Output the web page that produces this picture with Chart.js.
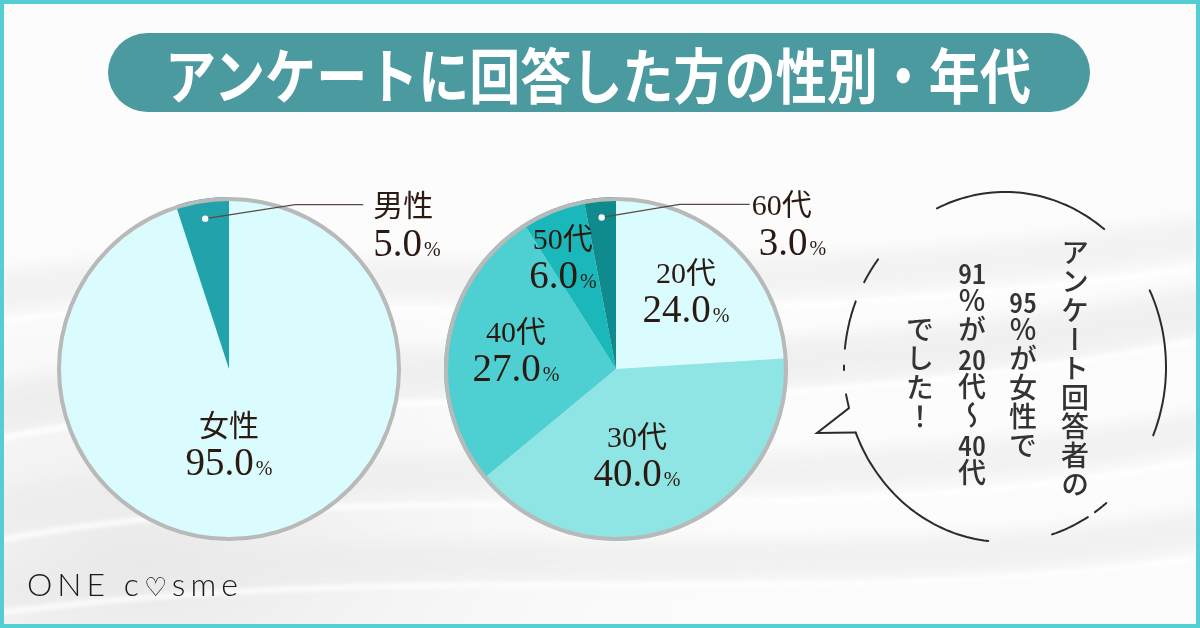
<!DOCTYPE html>
<html><head><meta charset="utf-8">
<script src="https://cdn.jsdelivr.net/npm/chart.js@4"></script>
<style>
html,body{margin:0;padding:0;}
body{width:1200px;height:628px;overflow:hidden;position:relative;background:#f9f9f9;font-family:"Noto Sans CJK JP",sans-serif;}
#bg{position:absolute;left:0;top:0;}
canvas{position:absolute;left:0;top:0;}
#frame{position:absolute;left:0;top:0;width:1192px;height:620px;border:4px solid #52cfd0;pointer-events:none;}
#title{position:absolute;left:108px;top:33px;width:982px;height:79px;border-radius:40px;background:#4b9a9f;overflow:hidden;}
#titleText{position:absolute;left:0;top:0;white-space:nowrap;color:#fff;font-family:"Noto Sans CJK JP",sans-serif;font-weight:700;
  font-size:60px;line-height:79px;transform-origin:0 50%;}
#bubble{position:absolute;left:0;top:0;}
.col{position:absolute;writing-mode:vertical-rl;text-orientation:mixed;font-family:"Noto Sans CJK JP",sans-serif;font-weight:500;
  font-size:28px;line-height:28px;letter-spacing:1px;color:#333;white-space:nowrap;}
.tcy{text-combine-upright:all;}
#logo{position:absolute;left:27px;top:564px;font-family:Lato,"Open Sans",sans-serif;font-weight:300;font-size:32px;letter-spacing:5px;color:#1a1a1a;white-space:nowrap;}
#logo .h{font-family:"DejaVu Sans",sans-serif;font-size:26px;}
</style></head>
<body>
<svg id="bg" width="1200" height="628">
  <defs>
    <filter id="blur"><feGaussianBlur stdDeviation="8"/></filter>
    <filter id="blur2"><feGaussianBlur stdDeviation="2"/></filter>
    <radialGradient id="g1" cx="0.12" cy="0.9" r="0.55">
      <stop offset="0" stop-color="#e8e8e8"/><stop offset="1" stop-color="#fbfbfb" stop-opacity="0"/>
    </radialGradient>
  </defs>
  <rect width="1200" height="628" fill="#fcfcfc"/>
  <rect width="1200" height="628" fill="url(#g1)"/>
  <g filter="url(#blur)" fill="none" opacity="0.6">
    <path d="M-50 300 C 250 240 600 330 1250 230" stroke="#ececec" stroke-width="40"/>
    <path d="M-50 420 C 300 330 700 420 1250 300" stroke="#e9e9e9" stroke-width="50"/>
    <path d="M-50 520 C 350 430 800 520 1250 420" stroke="#ebebeb" stroke-width="40"/>
    <path d="M-50 600 C 400 520 850 600 1250 520" stroke="#eaeaea" stroke-width="40"/>
  </g>
  <g filter="url(#blur2)" fill="none" opacity="0.9">
    <path d="M-50 330 C 250 270 600 360 1250 260" stroke="#ffffff" stroke-width="5"/>
    <path d="M-50 450 C 300 360 700 450 1250 330" stroke="#ffffff" stroke-width="6"/>
    <path d="M-50 550 C 350 460 800 550 1250 450" stroke="#ffffff" stroke-width="5"/>
    <path d="M-50 620 C 400 550 850 620 1250 550" stroke="#ffffff" stroke-width="5"/>
  </g>
</svg>

<svg id="bubble" width="1200" height="628">
  <g fill="none" stroke="#2b2b2b" stroke-width="2" stroke-linecap="round" id="bubbleG"></g>
</svg>

<canvas id="c1" width="1200" height="628"></canvas>
<canvas id="c2" width="1200" height="628"></canvas>

<div id="title"><span id="titleText">アンケートに回答した方の性別・年代</span></div>

<div class="col" style="left:1061px;top:238px;">アンケート回答者の</div>
<div class="col" style="left:1009px;top:287px;"><span class="tcy">95</span>％が女性で</div>
<div class="col" style="left:958px;top:258px;"><span class="tcy">91</span>％が<span class="tcy">20</span>代〜<span class="tcy">40</span>代</div>
<div class="col" style="left:906px;top:315px;">でした！</div>

<div id="logo">ONE c<span class="h">♡</span>sme</div>
<div id="frame"></div>

<script>
// ---- data ----
const genderLabels = ['女性', '男性'];
const genderValues = [95.0, 5.0];
const ageLabels = ['20代', '30代', '40代', '50代', '60代'];
const ageValues = [24.0, 40.0, 27.0, 6.0, 3.0];

const genderColors = ['#dafcfe', '#22a2ab'];
const ageColors = ['#dafcfe', '#8fe4e4', '#4ecfd1', '#1bb8bb', '#0f8b8e'];

// ---- title fit (text spans x 165..1030 in the page) ----
(function(){
  const t = document.getElementById('titleText');
  const w = t.getBoundingClientRect().width;
  const target = 866;
  const s = target / w;
  t.style.transform = 'scaleX(' + s + ')';
  t.style.left = (165 - 108) + 'px';
})();

// ---- speech bubble outline (decoration) ----
(function(){
  const g = document.getElementById('bubbleG');
  const cx = 1005, cy = 367, rx = 161, ry = 175;
  const pt = t => [cx + rx*Math.cos(t*Math.PI/180), cy + ry*Math.sin(t*Math.PI/180)];
  function arc(a0, a1){
    const n = 40; let d = '';
    for (let i=0;i<=n;i++){ const p = pt(a0 + (a1-a0)*i/n); d += (i?'L':'M') + p[0].toFixed(1)+' '+p[1].toFixed(1); }
    return d;
  }
  const segs = [[-115,-52],[-26,23],[51,56],[59,73],[96,158],[186,202],[209,218],[179,180.5]];
  segs.forEach(s => { const p = document.createElementNS('http://www.w3.org/2000/svg','path'); p.setAttribute('d', arc(s[0], s[1])); g.appendChild(p); });
  const tail = document.createElementNS('http://www.w3.org/2000/svg','path');
  const a = pt(171), b = pt(158);
  tail.setAttribute('d', `M${a[0]} ${a[1]} L849 408 L817 433 L${b[0]} ${b[1]}`);
  tail.setAttribute('stroke-linejoin','miter');
  g.appendChild(tail);
})();

// ---- plugins ----
const ringPlugin = {
  id: 'ring',
  afterDatasetsDraw(chart, args, opts){
    const arc = chart.getDatasetMeta(0).data[0];
    if (!arc) return;
    const ctx = chart.ctx;
    ctx.save();
    ctx.beginPath();
    ctx.arc(arc.x, arc.y, arc.outerRadius - opts.width/2, 0, Math.PI*2);
    ctx.lineWidth = opts.width;
    ctx.strokeStyle = opts.color;
    ctx.stroke();
    ctx.restore();
  }
};

const SERIF = '"Liberation Serif", "DejaVu Serif", "Noto Sans CJK JP", serif';
function drawValue(ctx, x, y, val, align){
  const big = '39px ' + SERIF, small = '20px ' + SERIF;
  ctx.font = big; const w1 = ctx.measureText(val).width;
  ctx.font = small; const w2 = ctx.measureText('%').width;
  const total = w1 + 2 + w2;
  const left = align === 'center' ? x - total/2 : x;
  const base = y + 13;
  ctx.textAlign = 'left'; ctx.textBaseline = 'alphabetic';
  ctx.font = big; ctx.fillText(val, left, base);
  ctx.font = small; ctx.fillText('%', left + w1 + 2, base);
}
function drawName(ctx, x, y, name, align){
  ctx.font = '30px ' + SERIF;
  ctx.textAlign = align; ctx.textBaseline = 'middle';
  ctx.fillText(name, x, y);
}

const labelPlugin = {
  id: 'sliceLabels',
  afterDatasetsDraw(chart, args, opts){
    const ctx = chart.ctx;
    const meta = chart.getDatasetMeta(0);
    const ds = chart.data.datasets[0];
    ctx.save();
    ctx.fillStyle = opts.color;
    meta.data.forEach((arc, i) => {
      const cfg = opts.items[i];
      const mid = (arc.startAngle + arc.endAngle)/2 + (cfg.da || 0)*Math.PI/180;
      const name = chart.data.labels[i];
      const val = ds.data[i].toFixed(1);
      const px = arc.x + Math.cos(mid)*arc.outerRadius*cfg.r;
      const py = arc.y + Math.sin(mid)*arc.outerRadius*cfg.r;
      if (cfg.type === 'inside'){
        drawName(ctx, px, py - 17, name, 'center');
        drawValue(ctx, px, py + 17, val, 'center');
      } else {
        const ex = px + cfg.ex, ey = py + cfg.ey, lx = ex + cfg.len;
        ctx.save();
        ctx.strokeStyle = opts.lineColor; ctx.lineWidth = 1.2;
        ctx.beginPath(); ctx.moveTo(px, py); ctx.lineTo(ex, ey); ctx.lineTo(lx, ey); ctx.stroke();
        ctx.fillStyle = '#ffffff';
        ctx.beginPath(); ctx.arc(px, py, 3.2, 0, Math.PI*2); ctx.fill();
        ctx.restore();
        const tx = lx + cfg.gap;
        drawName(ctx, tx, ey + 3, name, 'left');
        drawValue(ctx, tx + (cfg.vdx || 0), ey + 38, val, 'left');
      }
    });
    ctx.restore();
  }
};

function makePie(id, labels, values, colors, padding, items){
  return new Chart(document.getElementById(id), {
    type: 'pie',
    data: { labels: labels, datasets: [{ data: values, backgroundColor: colors, borderWidth: 0, hoverOffset: 0 }] },
    options: {
      responsive: false, animation: false, events: [],
      radius: 172,
      layout: { padding: padding },
      plugins: {
        legend: { display: false }, tooltip: { enabled: false },
        ring: { width: 4, color: '#b9b9b9' },
        sliceLabels: { color: '#2a1a12', lineColor: '#5a4a42', items: items }
      }
    },
    plugins: [ringPlugin, labelPlugin]
  });
}

makePie('c1', genderLabels, genderValues, genderColors,
  { left: 0, right: 742, top: 110, bottom: 0 },
  [ { type: 'inside', r: 0.44, da: 9 },
    { type: 'callout', r: 0.885, ex: 90, ey: -14, len: 68, gap: 10, vdx: 0 } ]);

makePie('c2', ageLabels, ageValues, ageColors,
  { left: 32, right: 0, top: 110, bottom: 0 },
  [ { type: 'inside', r: 0.605, da: -1 },
    { type: 'inside', r: 0.52, da: 8 },
    { type: 'inside', r: 0.59, da: 1 },
    { type: 'inside', r: 0.715, da: -4 },
    { type: 'callout', r: 0.885, ex: 78, ey: -13, len: 70, gap: 2, vdx: 7 } ]);
</script>
</body></html>
